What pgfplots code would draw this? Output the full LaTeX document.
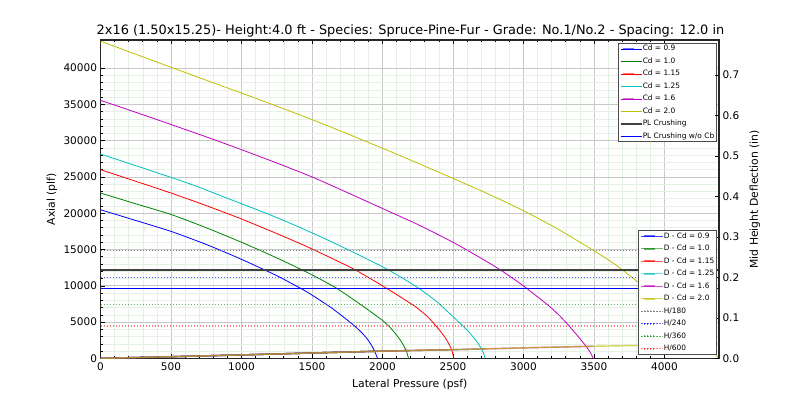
\documentclass[border=0pt]{standalone}
\usepackage{fontspec}
\setmainfont{DejaVu Sans}
\usepackage{pgfplots}
\pgfplotsset{compat=1.18}
\definecolor{pBlue}{rgb}{0,0,1}
\definecolor{pGreen}{rgb}{0,0.5,0}
\definecolor{pRed}{rgb}{1,0,0}
\definecolor{pCyan}{rgb}{0,0.75,0.75}
\definecolor{pMag}{rgb}{0.75,0,0.75}
\definecolor{pYel}{rgb}{0.75,0.75,0}
\definecolor{majg}{RGB}{200,200,200}
\definecolor{ming}{RGB}{228,241,228}
\pgfplotsset{
  mylegend/.style={
    legend cell align=left,
    legend style={font=\fontsize{7.4}{8}\selectfont, draw=black!70, line width=1pt,
      fill=white, inner sep=2pt, row sep=5.5pt, column sep=0pt,
      nodes={inner sep=0pt, text height=5.5pt, text depth=1.5pt}},
  },
  cap/.style={smooth, tension=0.35, line width=0.8pt},
}
\begin{document}
\begin{tikzpicture}
\useasboundingbox (0,0) rectangle (800pt,399pt);
\begin{axis}[
  at={(100.5pt,40.6pt)}, anchor=south west, scale only axis,
  width=618.5pt, height=318.4pt,
  xmin=0, xmax=4387, ymin=0, ymax=43860,
  xtick={0,500,...,4000}, ytick={0,5000,...,40000},
  minor x tick num=4, minor y tick num=4,
  grid=both,
  major grid style={majg, line width=0.8pt},
  minor grid style={ming, line width=0.5pt},
  tick align=inside, xtick pos=both, ytick pos=left, xticklabel pos=bottom,
  major tick length=4pt, minor tick length=2pt,
  tick style={black, line width=0.6pt},
  axis line style={black!85, line width=1.2pt},
  scaled ticks=false,
  /pgf/number format/1000 sep={},
  /pgf/number format/assume math mode=true,
  tick label style={font=\fontsize{10.5}{12}\selectfont},
  xticklabel style={yshift=-1pt},
  label style={font=\fontsize{10.8}{13}\selectfont},
  xlabel={Lateral Pressure (psf)},
  ylabel={Axial (plf)},
  xlabel style={at={(axis description cs:0.5,-0.0835)}, anchor=center},
  ylabel style={at={(axis description cs:-0.0784,0.5)}, anchor=center},
  mylegend,
  legend image code/.code={\path (0pt,0pt) -- (21.5pt,0pt); \draw[#1, line width=1.8pt, opacity=0.55] (2.5pt,0pt) -- (13.5pt,0pt);},
  legend style={at={(0.9963,0.9906)}, anchor=north east},
]
\addplot[pBlue, cap] coordinates {(0,20480) (250,19000) (500,17500) (750,15700) (1000,13650) (1250,11400) (1450,9320) (1550,8100) (1640,6940) (1730,5600) (1805,4420) (1860,3400) (1899,2500) (1930,1550) (1947,880) (1965,0)};
\addlegendentry{Cd = 0.9}
\addplot[pGreen, cap] coordinates {(0,22780) (250,21300) (500,19830) (750,18000) (1000,16000) (1250,13850) (1450,12000) (1560,10900) (1663,9800) (1750,8700) (1850,7350) (1994,5330) (2050,4350) (2089,3480) (2120,2700) (2148,1850) (2170,1000) (2185,0)};
\addlegendentry{Cd = 1.0}
\addplot[pRed, cap] coordinates {(0,26000) (250,24400) (500,22780) (750,21050) (994,19250) (1250,17200) (1450,15520) (1650,13700) (1805,12220) (1994,10070) (2100,8800) (2230,7180) (2320,5750) (2396,4100) (2440,3000) (2467,2150) (2490,1200) (2507,0)};
\addlegendentry{Cd = 1.15}
\addplot[pCyan, cap] coordinates {(0,28150) (250,26550) (500,24940) (700,23570) (895,22090) (1200,19800) (1450,17730) (1700,15500) (1994,12690) (2130,11200) (2254,9700) (2380,7900) (2498,5800) (2560,4650) (2609,3730) (2660,2550) (2691,1670) (2715,800) (2728,0)};
\addlegendentry{Cd = 1.25}
\addplot[pMag, cap] coordinates {(0,35550) (250,33900) (500,32220) (750,30520) (1000,28750) (1250,26920) (1500,25000) (1750,22850) (2000,20650) (2250,18450) (2500,16000) (2700,13800) (2845,12080) (2999,10000) (3176,7310) (3250,6000) (3318,4600) (3380,3200) (3441,1750) (3475,800) (3495,0)};
\addlegendentry{Cd = 1.6}
\addplot[pYel, cap] coordinates {(0,43700) (250,41900) (500,40100) (750,38320) (1000,36550) (1250,34750) (1500,32900) (1750,30950) (2000,28950) (2250,26900) (2500,24800) (2750,22650) (3000,20350) (3250,17750) (3500,14830) (3650,12950) (3791,10840) (3900,9200) (4000,7600) (4100,5900) (4200,4050) (4280,2400) (4330,1300) (4370,400) (4383,0)};
\addlegendentry{Cd = 2.0}
\addplot[black!75, line width=1.2pt] coordinates {(0,12180) (4387,12180)};
\addlegendentry{PL Crushing}
\addplot[pBlue, line width=0.9pt] coordinates {(0,9700) (4387,9700)};
\addlegendentry{PL Crushing w/o Cb}
\end{axis}
\begin{axis}[
  at={(100.5pt,40.6pt)}, anchor=south west, scale only axis,
  width=618.5pt, height=318.4pt,
  xmin=0, xmax=4387, ymin=0, ymax=0.7864,
  axis x line=none, axis y line*=right,
  ytick={0,0.1,...,0.7},
  tick align=inside, major tick length=4pt,
  tick style={black, line width=0.6pt},
  axis line style={black!85, line width=1.2pt},
  yticklabel style={/pgf/number format/fixed, /pgf/number format/fixed zerofill, /pgf/number format/precision=1},
  /pgf/number format/assume math mode=true,
  tick label style={font=\fontsize{10.5}{12}\selectfont},
  label style={font=\fontsize{10.8}{13}\selectfont},
  ylabel={Mid Height Deflection (in)},
  ylabel style={at={(axis description cs:1.058,0.5)}, anchor=center},
  mylegend,
  legend image code/.code={\path (0pt,0pt) -- (21.8pt,0pt); \draw[#1, line width=1.8pt, opacity=0.6] (2.8pt,0pt) -- (13.5pt,0pt);},
  legend style={at={(0.9963,0.0116)}, anchor=south east},
]
\addplot[pBlue, line width=1.4pt, opacity=0.75] coordinates {(0,0) (500,0.0042) (1000,0.0086) (1500,0.0134) (1965,0.0178)};
\addlegendentry{D - Cd = 0.9}
\addplot[pGreen, line width=1.4pt, opacity=0.55] coordinates {(0,0) (500,0.0042) (1000,0.0086) (1500,0.0134) (2000,0.018) (2185,0.0193)};
\addlegendentry{D - Cd = 1.0}
\addplot[pRed, line width=1.4pt, opacity=0.65] coordinates {(0,0) (500,0.0042) (1000,0.0086) (1500,0.0134) (2000,0.018) (2507,0.0216)};
\addlegendentry{D - Cd = 1.15}
\addplot[pCyan, line width=1.4pt, opacity=0.55] coordinates {(0,0) (500,0.0042) (1000,0.0086) (1500,0.0134) (2000,0.018) (2500,0.0215) (2728,0.0235)};
\addlegendentry{D - Cd = 1.25}
\addplot[pMag, line width=1.4pt, opacity=0.65] coordinates {(0,0) (500,0.0042) (1000,0.0086) (1500,0.0134) (2000,0.018) (2500,0.0215) (3000,0.026) (3495,0.030)};
\addlegendentry{D - Cd = 1.6}
\addplot[pYel, line width=1.4pt, opacity=0.65] coordinates {(0,0) (500,0.0042) (1000,0.0086) (1500,0.0134) (2000,0.018) (2500,0.0215) (3000,0.026) (3500,0.030) (4000,0.033) (4383,0.036)};
\addlegendentry{D - Cd = 2.0}
\addplot[gray, line width=1.2pt, dash pattern=on 1.2pt off 1.8pt] coordinates {(0,0.2667) (4387,0.2667)};
\addlegendentry{H/180}
\addplot[pBlue, opacity=0.6, line width=1.2pt, dash pattern=on 1.2pt off 1.8pt] coordinates {(0,0.2) (4387,0.2)};
\addlegendentry{H/240}
\addplot[pGreen, opacity=0.6, line width=1.2pt, dash pattern=on 1.2pt off 1.8pt] coordinates {(0,0.1333) (4387,0.1333)};
\addlegendentry{H/360}
\addplot[pRed, opacity=0.5, line width=1.2pt, dash pattern=on 1.2pt off 1.8pt] coordinates {(0,0.08) (4387,0.08)};
\addlegendentry{H/600}
\end{axis}
\node[anchor=base, font=\fontsize{12.9}{15}\selectfont, inner sep=0pt] at (410.5pt,364pt) {2x16 (1.50x15.25)- Height:4.0 ft - Species: Spruce-Pine-Fur - Grade: No.1/No.2 - Spacing: 12.0 in};
\end{tikzpicture}
\end{document}
